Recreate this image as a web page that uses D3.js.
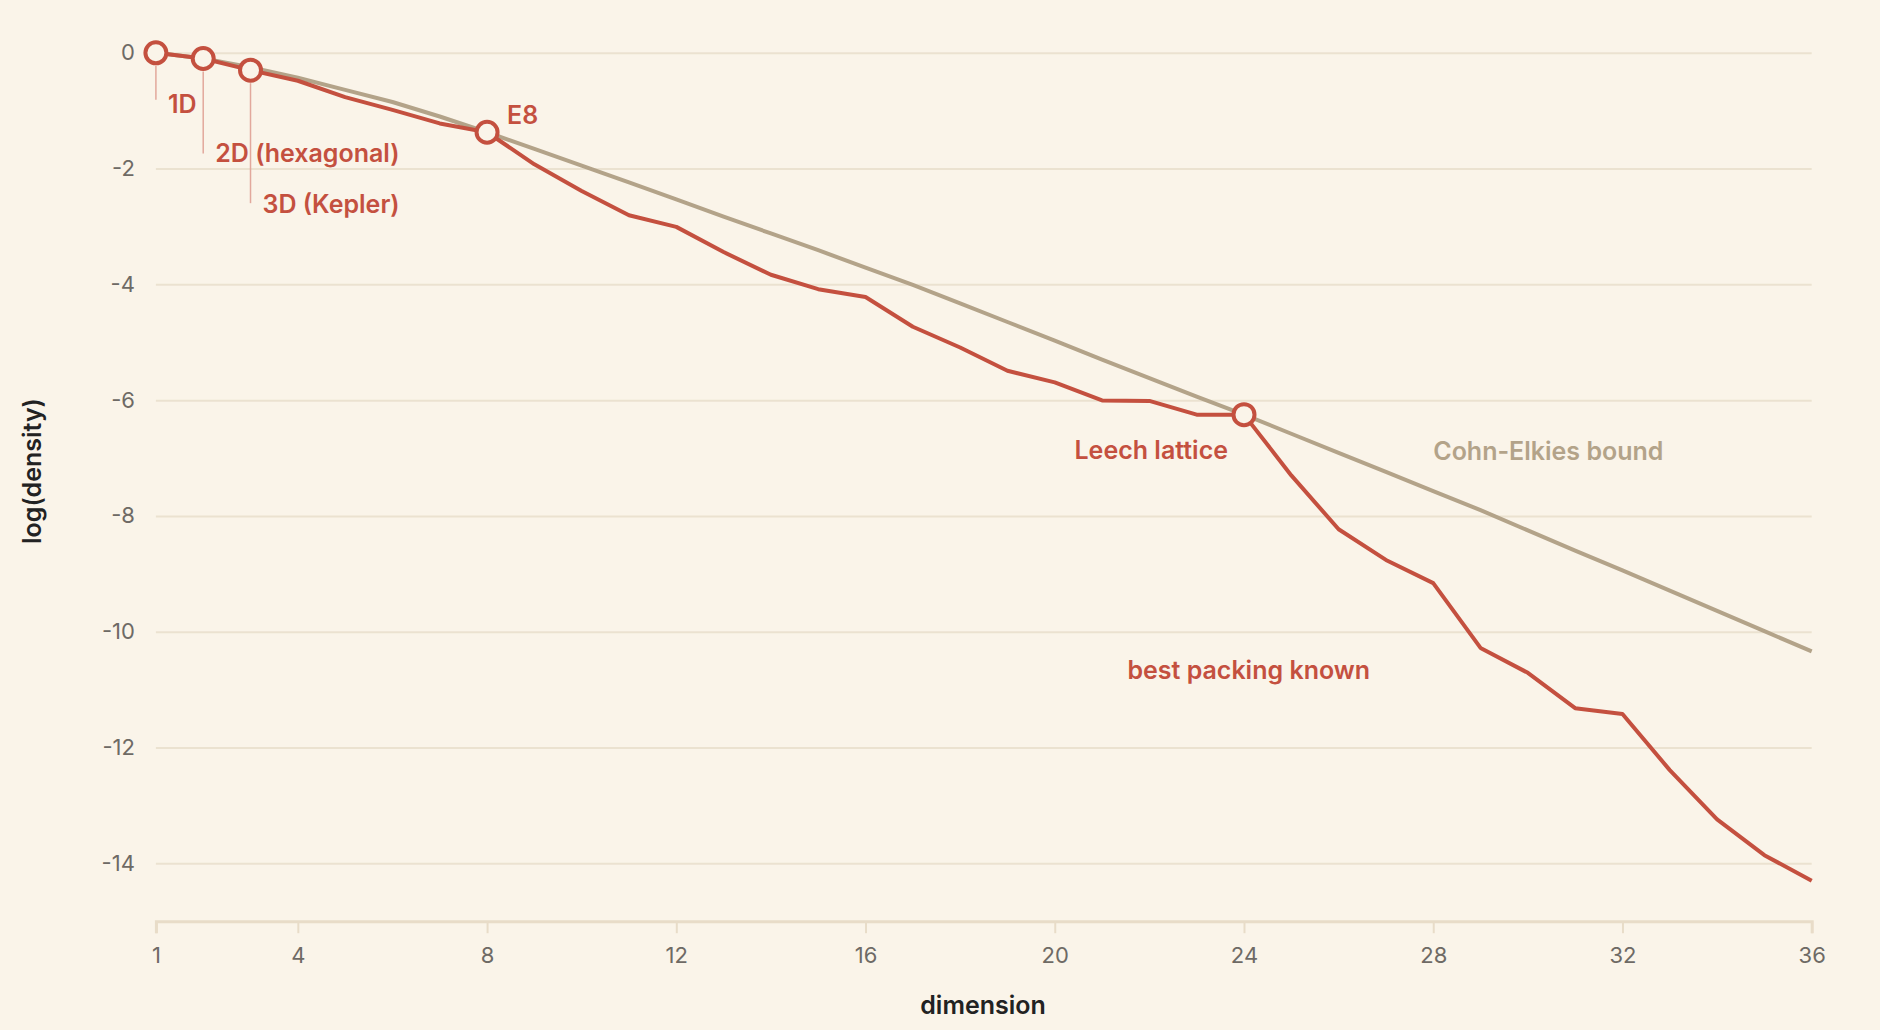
<!DOCTYPE html>
<html>
<head>
<meta charset="utf-8">
<script src="https://cdn.jsdelivr.net/npm/d3@7"></script>
<style>
  html, body { margin: 0; padding: 0; background: #faf4e9; }
  body { width: 1880px; height: 1030px; overflow: hidden; font-family: Inter, "Noto Sans", sans-serif; }
</style>
</head>
<body>
<div id="chart"></div>
<script>
// Data: natural log of sphere packing density per dimension
const dimensions = d3.range(1, 37);
const bestKnown = [
  0, -0.098, -0.300, -0.483, -0.765, -0.986, -1.220, -1.372, -1.926, -2.386,
  -2.806, -3.007, -3.442, -3.834, -4.083, -4.219, -4.732, -5.090, -5.492, -5.693,
  -6.004, -6.013, -6.251, -6.250, -7.30, -8.23, -8.76, -9.16, -10.28, -10.71,
  -11.32, -11.42, -12.39, -13.24, -13.86, -14.30
];
const cohnElkies = [
  0, -0.098, -0.25, -0.43, -0.64, -0.85, -1.10, -1.372, -1.66, -1.95,
  -2.24, -2.53, -2.83, -3.12, -3.41, -3.71, -4.01, -4.33, -4.65, -4.97,
  -5.30, -5.62, -5.94, -6.25, -6.58, -6.91, -7.24, -7.57, -7.90, -8.25,
  -8.60, -8.94, -9.29, -9.64, -9.99, -10.34
];
const xTicks = [1, 4, 8, 12, 16, 20, 24, 28, 32, 36];
const yTicks = [0, -2, -4, -6, -8, -10, -12, -14];
const highlights = [
  {dim: 1, label: "1D"},
  {dim: 2, label: "2D (hexagonal)"},
  {dim: 3, label: "3D (Kepler)"},
  {dim: 8, label: "E8"},
  {dim: 24, label: "Leech lattice"}
];

// Set up dimensions
const width = 1880, height = 1030;
const margin = {top: 52.8, right: 68.3, bottom: 108.8, left: 155.9};
const innerW = width - margin.left - margin.right;
const innerH = height - margin.top - margin.bottom;

const red = "#c4503f";
const tan = "#b3a389";
const grid = "#ebe2d0";

const svg = d3.select("#chart")
  .append("svg")
  .attr("width", width)
  .attr("height", height);

const g = svg.append("g")
  .attr("transform", `translate(${margin.left},${margin.top})`);

// Scales
const x = d3.scaleLinear().domain([1, 36]).range([0, innerW]);
const y = d3.scaleLinear().domain([-15, 0]).range([innerH, 0]);

// Gridlines + y labels (plain hyphen minus like the original)
const yAxis = g.append("g")
  .call(d3.axisLeft(y).tickValues(yTicks).tickSize(-innerW).tickPadding(21).tickFormat(d => String(d)));
yAxis.select(".domain").remove();
yAxis.selectAll(".tick line").attr("stroke", grid).attr("stroke-width", 2);
yAxis.selectAll(".tick text")
  .attr("fill", "#6e6a65")
  .style("font-size", "22px")
  .style("font-family", "Inter, sans-serif");

// X axis
const xAxis = g.append("g")
  .attr("transform", `translate(0,${innerH})`)
  .call(d3.axisBottom(x).tickValues(xTicks).tickSize(12).tickPadding(14).tickFormat(d => String(d)));
xAxis.select(".domain").attr("stroke", "#e8dcc8").attr("stroke-width", 3);
xAxis.selectAll(".tick line").attr("stroke", "#e8dcc8").attr("stroke-width", 2);
xAxis.selectAll(".tick text")
  .attr("fill", "#6e6a65")
  .style("font-size", "22px")
  .style("font-family", "Inter, sans-serif");

// Axis titles
svg.append("text")
  .attr("x", 983)
  .attr("y", 1005)
  .attr("dy", "0.35em")
  .attr("text-anchor", "middle")
  .attr("fill", "#222")
  .style("font-size", "25px")
  .style("font-weight", 600)
  .text("dimension");

svg.append("text")
  .attr("transform", "translate(32,471) rotate(-90)")
  .attr("dy", "0.35em")
  .attr("text-anchor", "middle")
  .attr("fill", "#222")
  .style("font-size", "25px")
  .style("font-weight", 600)
  .text("log(density)");

// Lines
const line = d3.line()
  .x((d, i) => x(dimensions[i]))
  .y(d => y(d));

g.append("path")
  .datum(cohnElkies)
  .attr("fill", "none")
  .attr("stroke", tan)
  .attr("stroke-width", 4)
  .attr("stroke-linejoin", "round")
  .attr("d", line);

g.append("path")
  .datum(bestKnown)
  .attr("fill", "none")
  .attr("stroke", red)
  .attr("stroke-width", 4)
  .attr("stroke-linejoin", "round")
  .attr("d", line);

// Leader lines for low dimensions
const leaders = [
  {dim: 1, len: 34},
  {dim: 2, len: 82},
  {dim: 3, len: 120}
];
leaders.forEach(l => {
  const v = bestKnown[l.dim - 1];
  g.append("line")
    .attr("x1", x(l.dim)).attr("x2", x(l.dim))
    .attr("y1", y(v) + 13).attr("y2", y(v) + 13 + l.len)
    .attr("stroke", "#e2a89c")
    .attr("stroke-width", 1.5);
});

// Markers
g.selectAll("circle.hl")
  .data(highlights)
  .join("circle")
  .attr("class", "hl")
  .attr("cx", d => x(d.dim))
  .attr("cy", d => y(bestKnown[d.dim - 1]))
  .attr("r", 10.5)
  .attr("fill", "#faf4e9")
  .attr("stroke", red)
  .attr("stroke-width", 4);

// Point labels
const labelPos = {
  "1D": {dx: 12, dy: 51, anchor: "start"},
  "2D (hexagonal)": {dx: 12, dy: 95, anchor: "start"},
  "3D (Kepler)": {dx: 12, dy: 134, anchor: "start"},
  "E8": {dx: 20, dy: -17, anchor: "start"},
  "Leech lattice": {dx: -16, dy: 36, anchor: "end"}
};
g.selectAll("text.hl")
  .data(highlights)
  .join("text")
  .attr("class", "hl")
  .attr("x", d => x(d.dim) + labelPos[d.label].dx)
  .attr("y", d => y(bestKnown[d.dim - 1]) + labelPos[d.label].dy)
  .attr("dy", "0.35em")
  .attr("text-anchor", d => labelPos[d.label].anchor)
  .attr("fill", red)
  .style("font-size", "25px")
  .style("font-weight", 600)
  .text(d => d.label);

// Series labels
g.append("text")
  .attr("x", x(28.0))
  .attr("y", y(-6.89))
  .attr("dy", "0.35em")
  .attr("fill", tan)
  .style("font-size", "25px")
  .style("font-weight", 600)
  .text("Cohn-Elkies bound");

g.append("text")
  .attr("x", x(24.1))
  .attr("y", y(-10.66))
  .attr("dy", "0.35em")
  .attr("text-anchor", "middle")
  .attr("fill", red)
  .style("font-size", "25px")
  .style("font-weight", 600)
  .text("best packing known");
</script>
</body>
</html>
